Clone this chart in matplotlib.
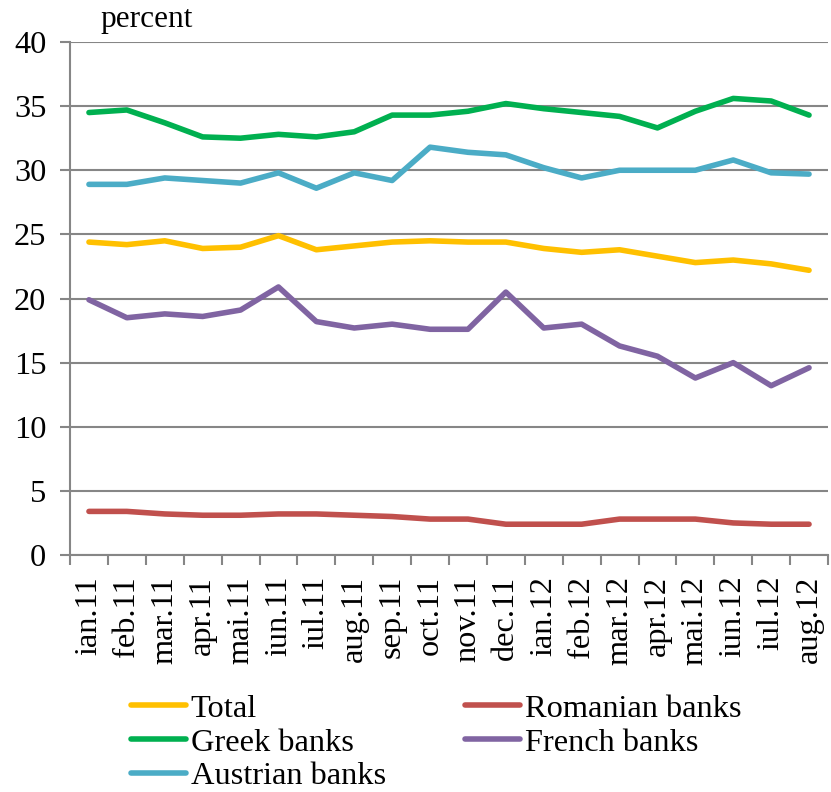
import matplotlib
matplotlib.use("Agg")
import matplotlib.pyplot as plt
import numpy as np

months = ["ian.11", "feb.11", "mar.11", "apr.11", "mai.11", "iun.11", "iul.11", "aug.11",
          "sep.11", "oct.11", "nov.11", "dec.11", "ian.12", "feb.12", "mar.12", "apr.12",
          "mai.12", "iun.12", "iul.12", "aug.12"]
total = [24.4, 24.2, 24.5, 23.9, 24.0, 24.9, 23.8, 24.1, 24.4, 24.5, 24.4, 24.4, 23.9, 23.6,
         23.8, 23.3, 22.8, 23.0, 22.7, 22.2]
romanian = [3.4, 3.4, 3.2, 3.1, 3.1, 3.2, 3.2, 3.1, 3.0, 2.8, 2.8, 2.4, 2.4, 2.4, 2.8, 2.8,
            2.8, 2.5, 2.4, 2.4]
greek = [34.5, 34.7, 33.7, 32.6, 32.5, 32.8, 32.6, 33.0, 34.3, 34.3, 34.6, 35.2, 34.8, 34.5,
         34.2, 33.3, 34.6, 35.6, 35.4, 34.3]
french = [19.9, 18.5, 18.8, 18.6, 19.1, 20.9, 18.2, 17.7, 18.0, 17.6, 17.6, 20.5, 17.7, 18.0,
          16.3, 15.5, 13.8, 15.0, 13.2, 14.6]
austrian = [28.9, 28.9, 29.4, 29.2, 29.0, 29.8, 28.6, 29.8, 29.2, 31.8, 31.4, 31.2, 30.2, 29.4,
            30.0, 30.0, 30.0, 30.8, 29.8, 29.7]

plt.rcParams['font.family'] = ['Liberation Serif', 'DejaVu Serif']
FS = 23.3

fig = plt.figure(figsize=(8.31, 7.92), dpi=100)
ax = fig.add_axes([70/831, 1-555/792, 758/831, 513/792])

x = np.arange(len(months))
lw = 4.0
series = [
    ("Total", total, "#FFC000"),
    ("Romanian banks", romanian, "#C0504D"),
    ("Greek banks", greek, "#00B050"),
    ("French banks", french, "#8064A2"),
    ("Austrian banks", austrian, "#4BACC6"),
]
lines = {}
for name, vals, col in series:
    ln, = ax.plot(x, vals, color=col, lw=lw, solid_capstyle='round', solid_joinstyle='round',
                  label=name, zorder=3)
    lines[name] = ln

ax.set_xlim(-0.5, len(months) - 0.5)
ax.set_ylim(0, 40)
ax.set_yticks(np.arange(0, 41, 5))
ax.grid(axis='y', color='#868686', lw=1.5, zorder=1)
ax.set_axisbelow(True)
for s in ['top', 'right']:
    ax.spines[s].set_visible(False)
for s in ['left', 'bottom']:
    ax.spines[s].set_color('#868686')
    ax.spines[s].set_linewidth(1.5)

ax.set_xticks(x)
ax.set_xticklabels(months, rotation=90, fontsize=FS)
ax.set_xticks(np.arange(-0.5, len(months), 1), minor=True)
ax.tick_params(axis='x', which='major', length=0, pad=15)
ax.tick_params(axis='x', which='minor', length=7, width=1.5, color='#868686', direction='out')
ax.tick_params(axis='y', length=7, width=1.5, color='#868686', labelsize=FS, pad=10)

fig.text(100/831, 1-19/792, "percent", fontsize=22.5, ha='left', va='center')

order = ["Total", "Greek banks", "Austrian banks", "Romanian banks", "French banks"]
leg = fig.legend([lines[n] for n in order], order, ncol=2, loc='upper left',
                 bbox_to_anchor=(131/831, 1-694/792),
                 frameon=False, fontsize=FS, handlelength=1.7, handletextpad=0.15,
                 columnspacing=2.45, labelspacing=0.13, borderaxespad=0, borderpad=0)

fig.savefig("out.png", dpi=100)
